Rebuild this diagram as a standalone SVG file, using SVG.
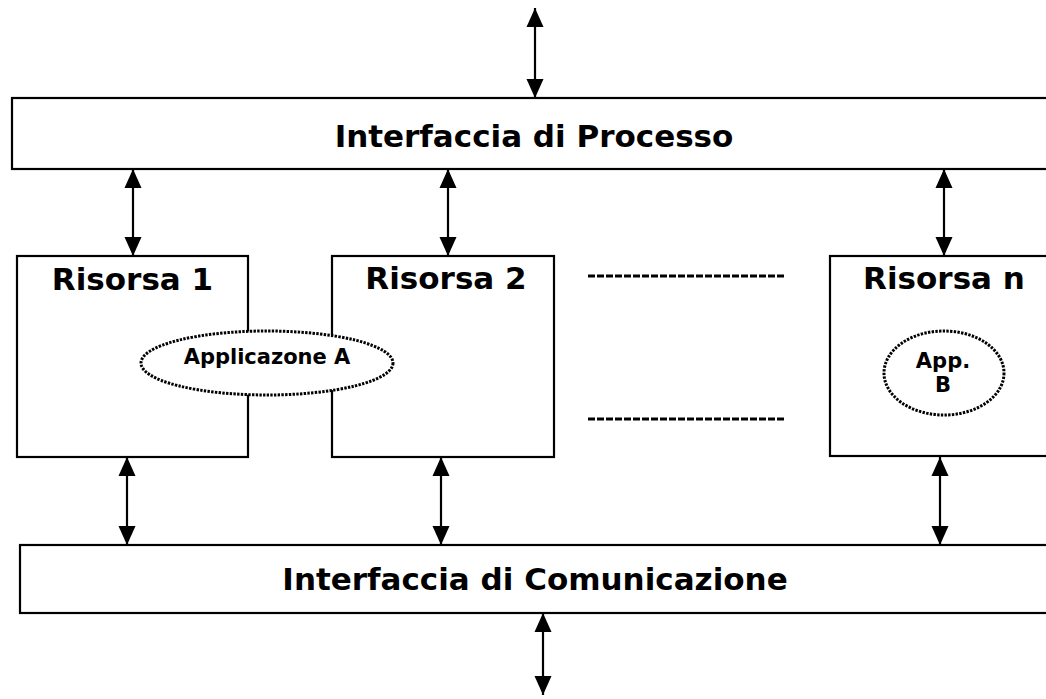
<svg xmlns="http://www.w3.org/2000/svg" width="1046" height="699" viewBox="0 0 1046 699">
<style>
.box{fill:#fff;stroke:#000;stroke-width:2.2}
.lbl{font-family:"DejaVu Sans","Verdana",sans-serif;font-weight:bold;fill:#000;text-anchor:middle}
.big{font-size:31px}
.small{font-size:21px}
.app{fill:#fff;stroke:#000;stroke-width:3;stroke-dasharray:2.4 1.3}
.conn{stroke:#000;stroke-width:2.2;fill:none;marker-start:url(#ah);marker-end:url(#ah)}
.dash{stroke:#000;stroke-width:3;stroke-dasharray:7 2}
</style>
<defs>
<marker id="ah" markerUnits="userSpaceOnUse" markerWidth="19" markerHeight="18" viewBox="0 0 19 17" refX="19" refY="8.5" orient="auto-start-reverse">
<path d="M0,0 L19,8.5 L0,17 Z" fill="#000"/>
</marker>
</defs>
<rect width="1046" height="699" fill="#fff"/>
<g id="interfaccia-processo">
<rect class="box" x="12" y="98" width="1040" height="71"/>
<text class="lbl big" x="534" y="147">Interfaccia di Processo</text>
</g>
<g id="risorsa-1">
<rect class="box" x="17" y="256" width="231" height="201"/>
<text class="lbl big" x="132.5" y="290">Risorsa 1</text>
</g>
<g id="risorsa-2">
<rect class="box" x="332" y="256" width="222" height="201"/>
<text class="lbl big" x="446" y="289">Risorsa 2</text>
</g>
<g id="risorsa-n">
<rect class="box" x="830" y="256" width="222" height="200"/>
<text class="lbl big" x="944" y="289">Risorsa n</text>
</g>
<g id="interfaccia-comunicazione">
<rect class="box" x="20" y="545" width="1030" height="68"/>
<text class="lbl big" x="535" y="590">Interfaccia di Comunicazione</text>
</g>
<g id="applicazione-a">
<ellipse class="app" cx="267" cy="363" rx="126" ry="32"/>
<text class="lbl small" x="267" y="364">Applicazone A</text>
</g>
<g id="app-b">
<ellipse class="app" cx="944" cy="373" rx="60" ry="42"/>
<text class="lbl small" x="943" y="368">App.</text>
<text class="lbl small" x="943" y="392">B</text>
</g>
<g id="separatori">
<line class="dash" x1="588" y1="276" x2="785" y2="276"/>
<line class="dash" x1="588" y1="419" x2="785" y2="419"/>
</g>
<g id="connectors">
<line class="conn" x1="535" y1="98" x2="535" y2="8"/>
<line class="conn" x1="133" y1="256" x2="133" y2="169"/>
<line class="conn" x1="448" y1="256" x2="448" y2="169"/>
<line class="conn" x1="944" y1="256" x2="944" y2="169"/>
<line class="conn" x1="127" y1="545" x2="127" y2="457"/>
<line class="conn" x1="441" y1="545" x2="441" y2="457"/>
<line class="conn" x1="940" y1="545" x2="940" y2="457"/>
<line class="conn" x1="543" y1="695" x2="543" y2="613"/>
</g>
</svg>
